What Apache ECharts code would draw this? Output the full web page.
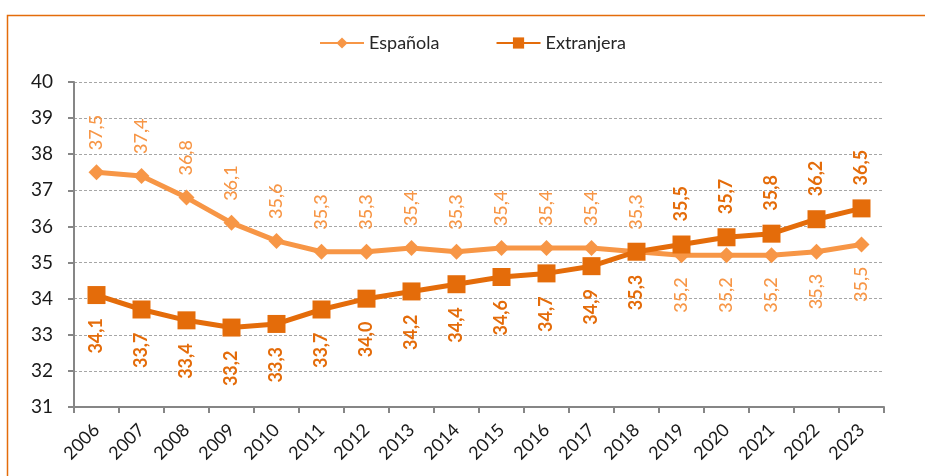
<!DOCTYPE html>
<html>
<head>
<meta charset="utf-8">
<script src="https://cdn.jsdelivr.net/npm/echarts@6/dist/echarts.min.js"></script>
<style>
  html, body { margin: 0; padding: 0; background: #fff; }
  #chart { width: 925px; height: 476px; }
</style>
</head>
<body>
<div id="chart"></div>
<script>
const years = ["2006", "2007", "2008", "2009", "2010", "2011", "2012", "2013", "2014",
  "2015", "2016", "2017", "2018", "2019", "2020", "2021", "2022", "2023"];
const espanola = [37.5, 37.4, 36.8, 36.1, 35.6, 35.3, 35.3, 35.4, 35.3,
  35.4, 35.4, 35.4, 35.3, 35.2, 35.2, 35.2, 35.3, 35.5];
const extranjera = [34.1, 33.7, 33.4, 33.2, 33.3, 33.7, 34.0, 34.2, 34.4,
  34.6, 34.7, 34.9, 35.3, 35.5, 35.7, 35.8, 36.2, 36.5];
// from 2019 on the labels swap sides
const swapFrom = 13;

const FONT = "Lato";
const LIGHT = "#F79646";
const DARK = "#E46C0A";

function fmt(v) {
  return v.toFixed(1).replace(".", ",");
}

function valueLabel(above, color, bold) {
  return {
    show: true,
    position: above ? "top" : "bottom",
    rotate: 90,
    align: above ? "left" : "right",
    verticalAlign: "middle",
    distance: 14,
    color: color,
    fontSize: 18,
    fontFamily: FONT,
    fontWeight: bold ? "bold" : 500,
    formatter: (p) => fmt(p.value),
  };
}

const espData = espanola.map((v, i) => ({
  value: v,
  label: valueLabel(i < swapFrom, LIGHT, false),
}));
const extData = extranjera.map((v, i) => ({
  value: v,
  label: valueLabel(i >= swapFrom, DARK, true),
}));

const chart = echarts.init(document.getElementById("chart"), null, { renderer: "canvas" });
chart.setOption({
  animation: false,
  textStyle: { fontFamily: FONT },
  graphic: [
    {
      type: "rect", silent: true, z: -1,
      shape: { x: 7.5, y: 15.5, width: 1000, height: 1000 },
      style: { fill: "none", stroke: DARK, lineWidth: 1.5 },
    },
  ],
  legend: {
    top: 29, left: 314, itemGap: 56, itemWidth: 44, itemHeight: 14,
    textStyle: { fontSize: 18, color: "#262626", fontFamily: FONT },
    data: ["Española", "Extranjera"],
  },
  grid: { left: 74, right: 41, top: 82, bottom: 69 },
  xAxis: {
    type: "category", data: years, boundaryGap: true,
    axisLine: { lineStyle: { color: "#868686", width: 2 } },
    axisTick: { show: true, length: 6, lineStyle: { color: "#868686", width: 2 } },
    axisLabel: { rotate: 45, fontSize: 18, color: "#1a1a1a", margin: 20, fontFamily: FONT },
  },
  yAxis: {
    type: "value", min: 31, max: 40, interval: 1,
    axisLine: { show: true, lineStyle: { color: "#868686", width: 2 } },
    axisTick: { show: true, length: 6, lineStyle: { color: "#868686", width: 2 } },
    axisLabel: { fontSize: 19, color: "#1a1a1a", margin: 21, fontFamily: FONT },
    splitLine: { lineStyle: { color: "#A6A6A6", type: [3, 2], width: 1 } },
  },
  series: [
    {
      name: "Española", type: "line", data: espData,
      symbol: "diamond", symbolSize: 16,
      lineStyle: { color: LIGHT, width: 5 },
      itemStyle: { color: LIGHT },
      z: 3,
    },
    {
      name: "Extranjera", type: "line", data: extData,
      symbol: "rect", symbolSize: 18,
      lineStyle: { color: DARK, width: 5 },
      itemStyle: { color: DARK },
      z: 4,
    },
  ],
});
</script>
</body>
</html>
